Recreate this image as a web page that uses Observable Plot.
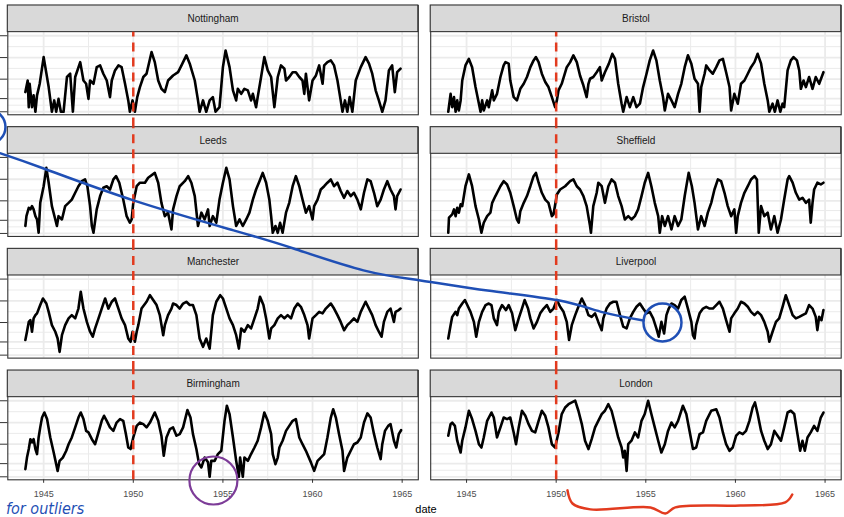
<!DOCTYPE html>
<html><head><meta charset="utf-8">
<script src="https://cdn.jsdelivr.net/npm/d3@7"></script>
<script src="https://cdn.jsdelivr.net/npm/@observablehq/plot@0.6"></script>
<style>
body{margin:0;background:#fff;width:844px;height:517px;overflow:hidden;position:relative;font-family:"Liberation Sans",Arial,sans-serif}
#chart{position:absolute;left:0;top:0}
#date{position:absolute;left:0;width:852px;text-align:center;top:503px;font-size:11px;line-height:13px;color:#000}
</style></head><body><div id="chart"></div><div id="date">date</div>
<script>
// facet layout: [city, column, row]
const layout = [["Nottingham",0,0],["Bristol",1,0],["Leeds",0,1],["Sheffield",1,1],["Manchester",0,2],["Liverpool",1,2],["Birmingham",0,3],["London",1,3]];
// tick labels (cases) on a log10(cases + 1) axis
const yTickCases = [0, 3, 30, 300, 3000];
const xTickYears = [1945, 1950, 1955, 1960, 1965];
const xMinorYears = [1947.5, 1952.5, 1957.5, 1962.5];
// series: [year, log10(cases + 1)]
const nottingham = [[1943.98,0.90],[1944.11,1.43],[1944.17,0.21],[1944.22,1.28],[1944.35,0.21],[1944.44,0.75],[1944.54,0],[1944.63,0.75],[1944.78,1.28],[1945.00,2.50],[1945.28,1.13],[1945.46,0],[1945.59,0.52],[1945.70,0],[1945.83,0.59],[1945.96,0],[1946.11,0],[1946.30,1.59],[1946.48,1.74],[1946.63,0],[1946.76,1.59],[1947.04,2.27],[1947.22,1.43],[1947.37,1.28],[1947.50,0.59],[1947.59,1.43],[1947.78,1.28],[1947.96,2.04],[1948.15,2.12],[1948.33,1.74],[1948.52,1.43],[1948.70,0.67],[1948.80,1.43],[1948.98,1.89],[1949.17,2.12],[1949.35,2.04],[1949.54,1.28],[1949.72,0.52],[1949.81,0],[1949.96,0.52],[1950.09,0],[1950.22,0.67],[1950.37,1.13],[1950.56,1.59],[1950.74,1.74],[1951.02,2.73],[1951.20,2.27],[1951.39,1.43],[1951.57,1.05],[1951.76,0.90],[1951.94,1.43],[1952.22,1.66],[1952.50,1.81],[1952.69,2.12],[1952.96,2.58],[1953.15,2.20],[1953.43,1.43],[1953.61,0.52],[1953.70,0],[1953.89,0.52],[1954.07,0],[1954.26,0.52],[1954.44,0.67],[1954.59,0],[1954.81,0.21],[1955.00,2.04],[1955.15,2.80],[1955.37,2.04],[1955.56,0.98],[1955.74,0.52],[1955.83,1.05],[1956.02,0.82],[1956.20,1.05],[1956.39,0.98],[1956.57,0.52],[1956.67,0.82],[1956.85,0.21],[1956.94,0.67],[1957.13,1.59],[1957.31,2.50],[1957.50,1.89],[1957.69,1.59],[1957.87,0.21],[1958.06,1.59],[1958.24,2.12],[1958.43,1.97],[1958.52,1.43],[1958.70,1.59],[1958.89,1.81],[1959.07,1.81],[1959.26,1.59],[1959.44,1.43],[1959.54,0.82],[1959.63,1.74],[1959.81,0.52],[1960.00,1.43],[1960.19,1.66],[1960.37,2.12],[1960.56,1.28],[1960.65,2.12],[1960.83,2.27],[1961.02,2.35],[1961.20,2.12],[1961.39,1.43],[1961.57,0.52],[1961.67,0],[1961.81,0.52],[1961.94,0],[1962.07,0.67],[1962.22,0],[1962.41,1.43],[1962.69,2.04],[1962.96,2.50],[1963.15,2.20],[1963.33,1.74],[1963.52,0.98],[1963.70,0.52],[1963.89,0],[1964.07,0.52],[1964.26,1.89],[1964.44,2.12],[1964.59,0.90],[1964.72,1.81],[1964.91,1.97]];
const bristol = [[1943.98,0],[1944.11,0.82],[1944.20,0.21],[1944.30,0.67],[1944.39,0],[1944.48,0.52],[1944.57,0.06],[1944.67,0.52],[1944.76,1.43],[1944.94,2.12],[1945.13,2.42],[1945.31,2.04],[1945.50,1.13],[1945.69,0.37],[1945.78,0],[1945.87,0.52],[1945.96,0.06],[1946.15,0.52],[1946.24,0.21],[1946.43,0.98],[1946.52,0.52],[1946.70,0.82],[1946.89,1.59],[1947.07,2.12],[1947.17,2.27],[1947.35,2.20],[1947.44,1.43],[1947.63,0.67],[1947.81,0.52],[1948.00,1.05],[1948.19,1.28],[1948.37,1.59],[1948.56,2.04],[1948.74,2.35],[1948.87,2.50],[1949.02,2.27],[1949.20,1.74],[1949.39,1.36],[1949.57,1.13],[1949.76,0.67],[1949.94,0.21],[1950.04,0.52],[1950.13,0.98],[1950.31,1.28],[1950.59,2.04],[1950.78,2.27],[1950.96,2.58],[1951.15,2.27],[1951.33,1.66],[1951.52,1.20],[1951.70,0.67],[1951.80,1.28],[1951.89,1.51],[1952.07,1.59],[1952.26,1.81],[1952.44,2.04],[1952.54,1.43],[1952.72,1.81],[1952.94,2.20],[1953.13,2.65],[1953.28,2.42],[1953.46,1.28],[1953.65,0.37],[1953.74,0],[1953.93,0.67],[1954.11,0.21],[1954.30,0.67],[1954.48,0.21],[1954.67,0.37],[1954.85,1.13],[1955.04,1.74],[1955.22,2.35],[1955.41,2.80],[1955.59,2.35],[1955.78,1.43],[1955.96,0.67],[1956.06,0.06],[1956.24,0.82],[1956.43,0.52],[1956.61,0.21],[1956.80,0.82],[1956.98,1.28],[1957.17,2.04],[1957.35,2.58],[1957.54,2.20],[1957.72,1.51],[1957.91,1.28],[1958.00,0],[1958.09,1.13],[1958.28,1.74],[1958.37,2.12],[1958.56,1.89],[1958.74,1.74],[1958.93,2.04],[1959.11,2.35],[1959.30,2.42],[1959.48,1.81],[1959.67,1.13],[1959.76,0.06],[1959.94,0.82],[1960.13,0.37],[1960.31,1.28],[1960.50,1.43],[1960.69,1.74],[1960.87,2.04],[1961.06,2.27],[1961.24,2.65],[1961.43,2.20],[1961.61,1.28],[1961.80,0.52],[1961.89,0],[1962.07,0.37],[1962.20,0],[1962.35,0.52],[1962.50,0],[1962.63,0.37],[1962.72,0.21],[1962.91,1.89],[1963.09,2.35],[1963.24,2.50],[1963.43,2.35],[1963.56,1.89],[1963.65,1.05],[1963.80,1.43],[1963.93,1.13],[1964.11,1.59],[1964.30,1.05],[1964.48,1.59],[1964.67,1.28],[1964.91,1.81]];
const leeds = [[1943.98,0.34],[1944.04,0.79],[1944.17,1.17],[1944.26,1.10],[1944.35,1.25],[1944.44,1.10],[1944.54,0.79],[1944.63,0.64],[1944.72,0.03],[1944.81,1.40],[1945.00,2.16],[1945.15,3.00],[1945.28,2.32],[1945.46,1.25],[1945.65,0.64],[1945.74,0.34],[1945.83,0.79],[1946.02,0.64],[1946.20,1.25],[1946.39,1.40],[1946.57,1.55],[1946.76,1.86],[1946.94,2.16],[1947.13,2.39],[1947.31,2.47],[1947.44,2.16],[1947.59,1.25],[1947.69,0.34],[1947.78,0.03],[1947.96,1.10],[1948.15,1.71],[1948.33,2.09],[1948.52,2.16],[1948.70,2.01],[1948.89,2.47],[1949.04,2.62],[1949.22,2.32],[1949.44,1.55],[1949.63,0.79],[1949.81,0.49],[1949.91,0.64],[1950.00,1.40],[1950.19,2.16],[1950.37,2.32],[1950.65,2.32],[1950.83,2.55],[1951.20,2.77],[1951.39,2.32],[1951.57,1.40],[1951.76,0.79],[1951.94,0.95],[1952.13,0.18],[1952.22,1.10],[1952.41,1.71],[1952.59,2.16],[1952.87,2.39],[1953.06,2.62],[1953.24,2.32],[1953.43,1.71],[1953.61,0.34],[1953.80,0.95],[1953.98,0.64],[1954.17,1.10],[1954.26,0.34],[1954.44,0.79],[1954.63,0.49],[1954.81,1.55],[1955.00,2.32],[1955.19,3.00],[1955.37,2.47],[1955.56,1.25],[1955.74,0.34],[1955.93,0.64],[1956.11,0.34],[1956.30,0.64],[1956.48,0.95],[1956.67,1.55],[1956.85,2.01],[1957.04,2.39],[1957.22,2.77],[1957.41,2.32],[1957.59,1.55],[1957.69,0.79],[1957.78,0.03],[1957.93,0.34],[1958.06,0.03],[1958.19,0.49],[1958.33,0.03],[1958.52,0.95],[1958.70,1.40],[1958.89,2.16],[1959.07,2.62],[1959.26,2.16],[1959.44,1.55],[1959.63,0.95],[1959.81,1.25],[1960.00,0.64],[1960.09,1.25],[1960.28,1.55],[1960.46,2.01],[1960.65,2.16],[1960.83,2.32],[1961.02,2.47],[1961.20,2.16],[1961.39,2.32],[1961.57,1.94],[1961.76,1.63],[1961.94,1.94],[1962.13,1.71],[1962.31,1.86],[1962.50,1.55],[1962.69,1.10],[1962.87,1.86],[1963.06,2.47],[1963.24,2.39],[1963.43,1.86],[1963.61,1.25],[1963.80,1.55],[1963.98,2.01],[1964.17,2.39],[1964.35,2.01],[1964.54,1.71],[1964.63,1.10],[1964.72,1.71],[1964.91,2.01]];
const sheffield = [[1943.98,0.03],[1944.02,0.72],[1944.20,0.87],[1944.30,1.10],[1944.39,0.79],[1944.48,1.17],[1944.57,0.95],[1944.67,1.33],[1944.76,1.25],[1944.94,2.16],[1945.13,2.70],[1945.31,2.16],[1945.50,1.25],[1945.69,0.64],[1945.83,0.03],[1945.96,0.49],[1946.15,0.79],[1946.33,0.95],[1946.43,1.40],[1946.61,1.71],[1946.89,2.16],[1947.07,2.39],[1947.26,2.24],[1947.44,1.86],[1947.63,1.25],[1947.81,0.64],[1947.91,0.49],[1948.00,1.02],[1948.19,1.40],[1948.37,1.71],[1948.56,2.16],[1948.74,2.62],[1948.87,2.77],[1949.02,2.32],[1949.20,1.86],[1949.39,1.55],[1949.57,1.40],[1949.76,0.79],[1949.85,0.87],[1950.04,1.78],[1950.22,2.01],[1950.50,2.16],[1950.78,2.39],[1950.96,2.47],[1951.15,2.16],[1951.33,2.01],[1951.52,1.71],[1951.70,1.25],[1951.89,0.34],[1951.94,0.03],[1952.07,1.25],[1952.26,1.86],[1952.35,2.32],[1952.54,2.16],[1952.72,1.40],[1952.91,2.16],[1953.09,2.47],[1953.28,2.32],[1953.46,1.71],[1953.65,1.25],[1953.83,0.64],[1954.02,0.79],[1954.20,0.64],[1954.39,0.79],[1954.57,1.10],[1954.76,1.71],[1954.94,2.32],[1955.13,2.77],[1955.31,2.16],[1955.50,1.40],[1955.69,0.79],[1955.78,0.03],[1955.91,0.79],[1956.06,0.34],[1956.24,0.79],[1956.43,0.18],[1956.61,0.79],[1956.80,0.34],[1956.98,0.64],[1957.17,1.71],[1957.39,2.77],[1957.57,2.16],[1957.72,1.40],[1957.91,0.18],[1958.09,0.79],[1958.28,0.34],[1958.46,0.95],[1958.65,1.40],[1958.83,2.01],[1959.02,2.47],[1959.20,2.39],[1959.39,1.86],[1959.57,1.25],[1959.76,0.79],[1959.94,1.10],[1960.04,0.03],[1960.13,0.79],[1960.31,1.40],[1960.50,1.86],[1960.69,2.16],[1960.87,2.47],[1961.06,2.62],[1961.20,2.47],[1961.30,0.03],[1961.43,1.25],[1961.61,0.79],[1961.80,0.95],[1961.98,0.18],[1962.17,0.79],[1962.35,0.03],[1962.54,0.64],[1962.72,1.55],[1962.91,2.47],[1963.00,2.62],[1963.19,2.32],[1963.37,1.86],[1963.56,1.55],[1963.74,1.63],[1963.93,1.40],[1964.11,1.55],[1964.20,0.49],[1964.30,1.40],[1964.39,2.01],[1964.57,2.32],[1964.76,2.24],[1964.91,2.32]];
const manchester = [[1943.98,0.69],[1944.07,1.07],[1944.17,1.52],[1944.26,1.60],[1944.35,1.07],[1944.44,1.68],[1944.54,1.83],[1944.63,1.91],[1944.81,2.29],[1944.96,2.59],[1945.15,2.36],[1945.28,1.98],[1945.46,1.37],[1945.65,1.07],[1945.78,0.76],[1945.89,0.15],[1946.02,0.91],[1946.20,1.37],[1946.39,1.68],[1946.57,1.83],[1946.76,1.68],[1946.94,2.13],[1947.07,2.90],[1947.22,2.13],[1947.41,1.52],[1947.59,1.07],[1947.74,0.84],[1947.87,1.22],[1948.06,1.68],[1948.24,2.13],[1948.43,2.59],[1948.61,2.13],[1948.80,2.44],[1948.98,2.59],[1949.17,2.13],[1949.35,1.68],[1949.54,1.37],[1949.72,0.76],[1949.85,0.61],[1949.96,1.07],[1950.09,0.61],[1950.19,1.07],[1950.28,1.37],[1950.46,2.13],[1950.74,2.44],[1950.93,2.74],[1951.11,2.52],[1951.30,2.29],[1951.48,1.83],[1951.67,0.91],[1951.76,1.37],[1951.94,1.83],[1952.13,2.13],[1952.22,2.36],[1952.41,2.29],[1952.59,2.13],[1952.78,2.36],[1952.96,2.44],[1953.15,2.29],[1953.33,2.29],[1953.52,1.83],[1953.70,0.76],[1953.89,0.38],[1954.07,0.76],[1954.26,0.30],[1954.44,1.83],[1954.63,2.44],[1954.85,2.74],[1955.00,2.59],[1955.19,2.13],[1955.37,1.68],[1955.56,1.37],[1955.74,0.91],[1955.89,0.30],[1956.02,1.22],[1956.20,1.07],[1956.39,1.37],[1956.57,1.22],[1956.76,1.68],[1956.94,2.13],[1957.07,2.67],[1957.26,2.29],[1957.41,1.68],[1957.59,0.76],[1957.69,1.22],[1957.87,1.37],[1958.06,1.68],[1958.24,1.83],[1958.43,1.68],[1958.61,1.83],[1958.80,1.68],[1958.98,2.13],[1959.17,2.36],[1959.35,2.21],[1959.54,1.83],[1959.72,1.37],[1959.81,0.76],[1960.00,1.68],[1960.19,1.83],[1960.37,1.98],[1960.56,1.91],[1960.74,2.13],[1961.02,2.36],[1961.20,2.13],[1961.39,1.83],[1961.57,1.52],[1961.76,1.14],[1961.94,1.37],[1962.13,1.52],[1962.31,1.68],[1962.50,1.52],[1962.69,1.98],[1962.96,2.44],[1963.15,2.13],[1963.33,1.83],[1963.52,1.37],[1963.70,1.07],[1963.85,0.84],[1963.98,1.52],[1964.17,1.98],[1964.35,2.13],[1964.54,1.52],[1964.63,1.98],[1964.81,2.06],[1964.91,2.13]];
const liverpool = [[1943.98,0.76],[1944.11,1.37],[1944.20,1.75],[1944.39,1.98],[1944.48,1.83],[1944.57,2.13],[1944.76,2.36],[1944.91,2.52],[1945.04,2.29],[1945.22,1.98],[1945.41,1.52],[1945.54,0.84],[1945.69,1.52],[1945.87,1.98],[1946.06,2.29],[1946.24,2.36],[1946.39,2.29],[1946.52,1.68],[1946.70,1.37],[1946.80,1.98],[1946.98,2.29],[1947.20,2.06],[1947.35,2.29],[1947.54,1.91],[1947.72,1.14],[1947.91,1.68],[1948.09,2.13],[1948.24,2.52],[1948.43,2.13],[1948.56,1.68],[1948.74,1.22],[1948.93,1.52],[1949.11,1.91],[1949.30,2.13],[1949.48,2.29],[1949.67,1.98],[1949.85,2.13],[1950.04,2.52],[1950.22,2.21],[1950.41,1.98],[1950.59,1.52],[1950.72,0.69],[1950.87,1.37],[1951.06,1.83],[1951.24,2.21],[1951.43,2.59],[1951.61,2.29],[1951.80,1.83],[1951.98,1.75],[1952.17,1.91],[1952.35,1.52],[1952.54,1.14],[1952.63,1.68],[1952.81,2.13],[1953.00,2.36],[1953.19,2.44],[1953.37,2.44],[1953.56,1.83],[1953.74,1.30],[1953.93,1.22],[1954.11,1.68],[1954.30,1.98],[1954.48,2.21],[1954.67,2.36],[1954.85,2.13],[1955.04,1.91],[1955.22,1.98],[1955.41,1.68],[1955.59,1.22],[1955.72,0.84],[1955.87,1.52],[1956.02,0.99],[1956.15,1.83],[1956.28,2.13],[1956.43,2.36],[1956.61,2.29],[1956.80,2.13],[1956.98,2.52],[1957.17,2.67],[1957.35,2.13],[1957.54,1.52],[1957.63,0.91],[1957.72,0.76],[1957.81,1.37],[1958.00,1.91],[1958.19,2.13],[1958.37,2.21],[1958.56,2.13],[1958.74,2.13],[1958.93,2.29],[1959.11,2.44],[1959.30,2.13],[1959.48,1.60],[1959.67,1.07],[1959.76,1.68],[1959.94,1.91],[1960.13,2.13],[1960.31,2.44],[1960.50,2.36],[1960.69,2.21],[1960.87,1.98],[1961.06,1.83],[1961.24,1.98],[1961.43,1.83],[1961.61,1.52],[1961.80,1.07],[1961.89,0.61],[1962.07,1.07],[1962.26,1.52],[1962.44,1.68],[1962.63,2.21],[1962.81,2.74],[1963.00,2.29],[1963.19,1.83],[1963.37,1.68],[1963.56,1.75],[1963.74,1.83],[1963.93,1.91],[1964.11,2.29],[1964.30,2.13],[1964.48,1.75],[1964.57,1.14],[1964.67,1.75],[1964.80,1.60],[1964.91,2.06]];
const birmingham = [[1943.98,0.35],[1944.07,0.88],[1944.17,1.27],[1944.26,1.72],[1944.35,1.57],[1944.44,1.72],[1944.54,1.27],[1944.63,1.04],[1944.72,1.80],[1944.81,2.26],[1944.91,2.71],[1945.04,2.94],[1945.19,2.64],[1945.37,1.80],[1945.56,1.11],[1945.70,0.58],[1945.78,0.27],[1945.89,0.73],[1946.07,0.88],[1946.26,1.19],[1946.39,1.49],[1946.57,1.80],[1946.76,2.26],[1946.94,2.71],[1947.07,2.94],[1947.22,2.64],[1947.37,2.10],[1947.50,2.03],[1947.69,1.72],[1947.87,1.49],[1948.06,2.03],[1948.24,2.56],[1948.37,2.79],[1948.52,2.56],[1948.70,2.26],[1948.89,2.10],[1949.07,2.48],[1949.26,2.64],[1949.44,2.56],[1949.59,1.95],[1949.72,1.34],[1949.85,1.27],[1950.00,1.80],[1950.19,2.33],[1950.37,2.48],[1950.56,2.41],[1950.74,2.26],[1950.93,2.48],[1951.20,2.94],[1951.39,2.56],[1951.57,1.88],[1951.70,0.96],[1951.85,1.80],[1952.04,2.18],[1952.22,2.26],[1952.41,1.88],[1952.59,1.95],[1952.78,2.26],[1953.02,3.05],[1953.19,2.71],[1953.33,1.95],[1953.52,1.27],[1953.67,0.58],[1953.80,0.43],[1953.98,0.88],[1954.17,0.66],[1954.26,0],[1954.35,0.73],[1954.54,0.73],[1954.72,1.04],[1954.91,1.19],[1955.09,2.56],[1955.22,3.25],[1955.37,2.87],[1955.56,1.80],[1955.74,0.73],[1955.89,0],[1955.96,0.88],[1956.11,0],[1956.20,0.88],[1956.39,0.73],[1956.57,1.04],[1956.76,1.34],[1956.94,1.65],[1957.13,2.26],[1957.31,2.94],[1957.50,2.56],[1957.69,1.95],[1957.78,1.04],[1957.93,0.58],[1958.06,0.88],[1958.15,1.34],[1958.33,1.65],[1958.52,2.10],[1958.70,2.33],[1958.89,2.56],[1959.07,2.64],[1959.26,1.80],[1959.44,1.49],[1959.63,1.19],[1959.91,0.66],[1960.09,0.27],[1960.28,0.73],[1960.46,0.88],[1960.65,1.04],[1960.83,1.80],[1961.02,2.71],[1961.15,3.09],[1961.30,2.71],[1961.48,1.95],[1961.67,1.19],[1961.76,0.27],[1961.94,0.88],[1962.13,1.19],[1962.31,1.49],[1962.50,1.57],[1962.69,1.80],[1962.87,2.48],[1963.06,2.90],[1963.24,2.71],[1963.43,1.95],[1963.61,1.34],[1963.80,0.81],[1963.89,1.49],[1964.04,2.10],[1964.22,2.33],[1964.35,2.41],[1964.54,1.65],[1964.67,1.34],[1964.81,1.95],[1964.94,2.13]];
const london = [[1943.98,1.88],[1944.11,2.41],[1944.20,2.48],[1944.35,2.33],[1944.48,1.65],[1944.67,1.11],[1944.76,1.65],[1944.94,2.26],[1945.13,3.02],[1945.31,2.64],[1945.50,2.10],[1945.69,1.49],[1945.83,1.34],[1945.96,1.80],[1946.15,2.56],[1946.39,2.94],[1946.52,2.71],[1946.70,1.80],[1946.89,2.26],[1947.07,2.71],[1947.26,2.64],[1947.44,2.71],[1947.63,2.03],[1947.76,1.49],[1947.91,2.26],[1948.09,3.02],[1948.28,2.79],[1948.46,2.41],[1948.65,2.10],[1948.83,2.03],[1949.02,2.56],[1949.20,3.02],[1949.39,2.79],[1949.57,2.26],[1949.76,1.49],[1949.94,1.34],[1950.13,2.03],[1950.31,2.87],[1950.50,3.17],[1950.69,3.32],[1951.06,3.48],[1951.24,3.02],[1951.43,2.41],[1951.61,1.65],[1951.80,1.27],[1951.98,1.72],[1952.17,2.26],[1952.35,2.56],[1952.54,2.87],[1952.72,3.02],[1952.91,3.32],[1953.09,3.02],[1953.28,2.41],[1953.46,1.80],[1953.65,1.34],[1953.74,0.88],[1953.83,1.19],[1953.93,0.27],[1954.02,1.49],[1954.20,1.65],[1954.39,2.03],[1954.57,1.80],[1954.76,2.56],[1954.94,2.87],[1955.13,3.48],[1955.31,2.87],[1955.50,2.26],[1955.69,1.65],[1955.87,1.11],[1956.06,1.49],[1956.24,2.10],[1956.43,2.48],[1956.61,2.26],[1956.80,2.56],[1957.07,3.25],[1957.26,2.87],[1957.44,2.10],[1957.63,1.27],[1957.81,1.34],[1958.00,1.95],[1958.19,2.03],[1958.37,2.56],[1958.65,3.02],[1958.93,3.09],[1959.11,2.71],[1959.30,2.03],[1959.48,1.49],[1959.67,1.19],[1959.85,1.34],[1960.04,1.88],[1960.22,2.03],[1960.41,1.95],[1960.59,2.10],[1960.78,2.56],[1960.96,3.17],[1961.09,3.40],[1961.24,2.87],[1961.43,2.10],[1961.61,1.65],[1961.80,1.27],[1961.98,1.49],[1962.17,2.10],[1962.35,1.88],[1962.54,1.65],[1962.72,2.26],[1962.91,2.94],[1963.09,3.02],[1963.28,2.87],[1963.46,1.95],[1963.61,1.19],[1963.74,1.65],[1963.87,1.19],[1964.02,1.80],[1964.20,2.03],[1964.39,2.33],[1964.57,2.10],[1964.76,2.71],[1964.91,2.94]];
// hand-drawn annotations (read in London / Birmingham panel coordinates)
const blueStroke = [[1919.01,14.79],[1921.41,14.10],[1926.42,12.64],[1932.00,11.27],[1935.35,10.44],[1939.25,9.44],[1942.43,8.98],[1946.17,8.52],[1950.12,8.07],[1952.63,7.52],[1954.87,7.15]];
const blueCircle = [[1955.93,7.06]];
const blueEdgeCircle = [[1918.33,16.0]];
const purpleCircle = [[1954.47,-0.17]];
const redBrace = [[1950.63,-0.62],[1950.91,-1.22],[1951.91,-1.49],[1955.26,-1.40],[1956.09,-1.68],[1956.65,-1.40],[1960.27,-1.31],[1962.78,-1.17],[1963.17,-0.81]];
const markYear = 1950;

const series = {Nottingham: nottingham, Bristol: bristol, Leeds: leeds, Sheffield: sheffield, Manchester: manchester, Liverpool: liverpool, Birmingham: birmingham, London: london};
const t = c => Math.log10(c + 1);
const yMajor = yTickCases.map(t);
const yMinor = yMajor.slice(1).map((v, i) => (v + yMajor[i]) / 2);
const xDom = [1943, 1965.9];
const yLo = -0.137, yHi = 3.642, yStrip = 4.86;
const rows = layout.flatMap(([city, col, row]) => series[city].map(([date, v]) => ({city, col, row, date, v})));
const panels = layout.map(([city, col, row]) => ({city, col, row}));
const redRules = panels.map(p => ({...p, y1: p.row === 3 ? yLo : -0.7, y2: p.row === 0 ? yHi : yStrip}));
const inFacet = (arr, col, row) => arr.map(([x, y]) => ({x, y, col, row}));
const blue = inFacet(blueStroke, 1, 3);
const blueC = inFacet(blueCircle, 1, 3);
const blueE = inFacet(blueEdgeCircle, 1, 3);
const purpleC = inFacet(purpleCircle, 0, 3);
const brace = inFacet(redBrace, 1, 3);
const note = [{x: 1942.9, y: -1.46, text: "for outliers", col: 0, row: 3}];

const chart = Plot.plot({
  width: 844, height: 517,
  marginLeft: 7.3, marginRight: 3.3, marginTop: 5, marginBottom: 517 - 479.3,
  style: {fontFamily: "'Liberation Sans', Arial, sans-serif", background: "transparent"},
  x: {domain: xDom, axis: null},
  y: {domain: [yLo, yStrip], axis: null},
  fx: {domain: [0, 1], axis: null, paddingInner: 0.0293, paddingOuter: 0, round: false},
  fy: {domain: [0, 1, 2, 3], axis: null, paddingInner: 0.102, paddingOuter: 0, round: false},
  marks: [
    Plot.ruleY(yMinor, {stroke: "#ebebeb", strokeWidth: 1}),
    Plot.ruleY(yMajor, {stroke: "#ebebeb", strokeWidth: 1.8}),
    Plot.ruleX(xMinorYears, {stroke: "#ebebeb", strokeWidth: 1}),
    Plot.ruleX(xTickYears, {stroke: "#ebebeb", strokeWidth: 1.8}),
    Plot.line(rows, {x: "date", y: "v", z: "city", fx: "col", fy: "row", stroke: "#000", strokeWidth: 2.6, strokeLinejoin: "round"}),
    Plot.frame({stroke: "#333333", strokeWidth: 1.1}),
    Plot.rect(panels, {x1: xDom[0], x2: xDom[1], y1: yHi, y2: yStrip, fx: "col", fy: "row", fill: "#d9d9d9", stroke: "#333333", strokeWidth: 1.1}),
    Plot.text(panels, {x: (xDom[0] + xDom[1]) / 2, y: 4.25, text: "city", fx: "col", fy: "row", fontSize: 10, fill: "#1a1a1a"}),
    Plot.axisX(xTickYears, {anchor: "bottom", facetAnchor: "bottom", tickSize: 3.5, tickPadding: 7, fontSize: 9, fill: "#4d4d4d", stroke: "#333333", label: null, tickFormat: d => String(d)}),
    Plot.axisY(yMajor, {anchor: "left", facetAnchor: "left", tickSize: 7.3, tickFormat: () => "", stroke: "#333333", label: null}),
    Plot.ruleX(redRules, {x: markYear, y1: "y1", y2: "y2", fx: "col", fy: "row", stroke: "#e23b1f", strokeWidth: 2.5, strokeDasharray: "9,6"}),
    Plot.line(brace, {x: "x", y: "y", fx: "col", fy: "row", stroke: "#e23b1f", strokeWidth: 2.5, curve: "catmull-rom"}),
    Plot.dot(purpleC, {x: "x", y: "y", r: 24, fx: "col", fy: "row", stroke: "#7d3c98", strokeWidth: 2.2, fill: "none"}),
    Plot.text(note, {x: "x", y: "y", text: "text", fx: "col", fy: "row", textAnchor: "start", fontSize: 16, fontStyle: "italic", fontFamily: "'DejaVu Sans Condensed', 'DejaVu Sans', sans-serif", fill: "#1f4fb5"}),
    Plot.line(blue, {x: "x", y: "y", fx: "col", fy: "row", stroke: "#1f4fb5", strokeWidth: 2.5, curve: "natural"}),
    Plot.dot(blueC, {x: "x", y: "y", r: 19, fx: "col", fy: "row", stroke: "#1f4fb5", strokeWidth: 2.5, fill: "none"}),
    Plot.dot(blueE, {x: "x", y: "y", r: 17, fx: "col", fy: "row", stroke: "#1f4fb5", strokeWidth: 2.5, fill: "none"})
  ]
});
document.getElementById("chart").append(chart);
</script></body></html>
